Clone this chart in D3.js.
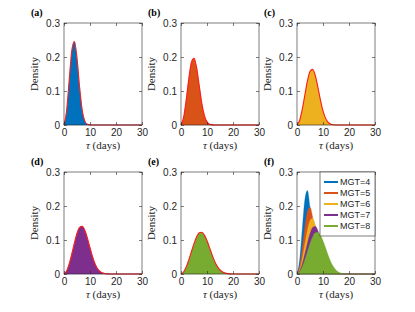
<!DOCTYPE html>
<html>
<head>
<meta charset="utf-8">
<script src="https://cdn.jsdelivr.net/npm/d3@7"></script>
<style>
  body { margin: 0; background: #fff; }
  svg { display: block; }
</style>
</head>
<body>
<svg id="chart" width="415" height="312"></svg>
<script>
// tau grid (days)
const tau = d3.range(0, 31);

// estimated density of tau for each mean generation time
const mgt4 = [0, 0.0411, 0.1309, 0.2182, 0.2456, 0.1961, 0.1107, 0.0434, 0.01147, 0.00198, 0.00022, 0, 0, 0, 0, 0, 0, 0, 0, 0, 0, 0, 0, 0, 0, 0, 0, 0, 0, 0, 0];
const mgt5 = [0, 0.02217, 0.0736, 0.1358, 0.184, 0.1965, 0.1685, 0.1161, 0.0637, 0.02749, 0.00918, 0.00234, 0.00045, 0.00006, 0, 0, 0, 0, 0, 0, 0, 0, 0, 0, 0, 0, 0, 0, 0, 0, 0];
const mgt6 = [0, 0.01334, 0.04514, 0.0873, 0.1289, 0.1575, 0.1637, 0.1463, 0.1123, 0.0738, 0.04126, 0.01945, 0.00765, 0.0025, 0.00067, 0.00014, 0, 0, 0, 0, 0, 0, 0, 0, 0, 0, 0, 0, 0, 0, 0];
const mgt7 = [0, 0.00868, 0.02966, 0.0588, 0.0908, 0.119, 0.137, 0.1403, 0.1286, 0.1055, 0.0772, 0.0503, 0.02902, 0.01475, 0.00655, 0.00254, 0.00085, 0.00025, 0.00006, 0, 0, 0, 0, 0, 0, 0, 0, 0, 0, 0, 0];
const mgt8 = [0, 0.00598, 0.02054, 0.0413, 0.06547, 0.0894, 0.1091, 0.121, 0.1228, 0.1144, 0.098, 0.077, 0.05536, 0.03636, 0.02171, 0.01175, 0.00574, 0.00252, 0.00099, 0.00035, 0.0001, 0, 0, 0, 0, 0, 0, 0, 0, 0, 0];

const seriesNames = ["MGT=4", "MGT=5", "MGT=6", "MGT=7", "MGT=8"];
const seriesValues = [mgt4, mgt5, mgt6, mgt7, mgt8];
const colors = ["#0072BD", "#D95319", "#EDB120", "#7E2F8E", "#77AC30"];
const panelLabels = ["(a)", "(b)", "(c)", "(d)", "(e)", "(f)"];
const xTicks = [0, 10, 20, 30];
const yTicks = [0, 0.1, 0.2, 0.3];

const svg = d3.select("#chart");
const W = 78, H = 102;
const colX = [64, 181, 297];
const rowY = [23, 172];
const axisColor = "#262626";
const fitColor = "#ff1a1a";

const x = d3.scaleLinear().domain([0, 30]).range([0, W]);
const y = d3.scaleLinear().domain([0, 0.3]).range([H, 0]);

const area = d3.area()
    .x((d, i) => x(tau[i]))
    .y0(H)
    .y1(d => y(d))
    .curve(d3.curveMonotoneX);

const line = d3.line()
    .x((d, i) => x(tau[i]))
    .y(d => y(d))
    .curve(d3.curveMonotoneX);

panelLabels.forEach((lab, p) => {
    const col = p % 3, row = Math.floor(p / 3);
    const g = svg.append("g")
        .attr("transform", `translate(${colX[col]},${rowY[row]})`);

    // histogram fill(s)
    const idx = p < 5 ? [p] : [0, 1, 2, 3, 4];
    idx.forEach(k => {
        g.append("path")
            .datum(seriesValues[k])
            .attr("d", area)
            .attr("fill", colors[k])
            .attr("stroke", colors[k])
            .attr("stroke-opacity", 0.35)
            .attr("stroke-width", 0.8);
    });

    // fitted curve
    if (p < 5) {
        g.append("path")
            .datum(seriesValues[p])
            .attr("d", line)
            .attr("fill", "none")
            .attr("stroke", fitColor)
            .attr("stroke-width", 1.1);
    }

    // axes
    const styleAxis = sel => {
        sel.select(".domain").remove();
        sel.selectAll("line").attr("stroke", axisColor).attr("stroke-width", 0.6);
        sel.selectAll("text")
            .attr("fill", axisColor)
            .style("font-family", "Liberation Sans, Arial, sans-serif")
            .style("font-size", "10px");
    };

    g.append("g")
        .attr("transform", `translate(0,${H})`)
        .call(d3.axisBottom(x).tickValues(xTicks).tickSizeInner(-3).tickSizeOuter(0).tickPadding(4))
        .call(styleAxis);
    g.append("g")
        .call(d3.axisTop(x).tickValues(xTicks).tickSizeInner(-3).tickSizeOuter(0).tickFormat(""))
        .call(styleAxis);
    g.append("g")
        .call(d3.axisLeft(y).tickValues(yTicks).tickSizeInner(-3).tickSizeOuter(0).tickPadding(4)
            .tickFormat(d => d === 0 ? "0" : d3.format(".1f")(d)))
        .call(styleAxis);
    g.append("g")
        .attr("transform", `translate(${W},0)`)
        .call(d3.axisRight(y).tickValues(yTicks).tickSizeInner(-3).tickSizeOuter(0).tickFormat(""))
        .call(styleAxis);

    g.append("rect")
        .attr("width", W).attr("height", H)
        .attr("fill", "none")
        .attr("stroke", axisColor)
        .attr("stroke-width", 0.6);

    // axis titles
    g.append("text")
        .attr("transform", `translate(-26,${H / 2}) rotate(-90)`)
        .attr("text-anchor", "middle")
        .attr("fill", axisColor)
        .style("font-family", "Liberation Serif, Times New Roman, serif")
        .style("font-size", "11px")
        .text("Density");

    const xl = g.append("text")
        .attr("x", W / 2).attr("y", H + 24)
        .attr("text-anchor", "middle")
        .attr("fill", axisColor)
        .style("font-family", "Liberation Serif, Times New Roman, serif")
        .style("font-size", "11px");
    xl.append("tspan").style("font-style", "italic").text("τ");
    xl.append("tspan").text(" (days)");

    // panel label
    g.append("text")
        .attr("x", -33).attr("y", -7)
        .attr("fill", "#000")
        .style("font-family", "Liberation Serif, Times New Roman, serif")
        .style("font-weight", "bold")
        .style("font-size", "10px")
        .text(lab);

    // legend in (f)
    if (p === 5) {
        const lw = 55, lh = 64;
        const lg = g.append("g").attr("transform", `translate(${W - lw},0)`);
        lg.append("rect")
            .attr("width", lw).attr("height", lh)
            .attr("fill", "#fff")
            .attr("stroke", axisColor)
            .attr("stroke-width", 0.6);
        seriesNames.forEach((name, k) => {
            const yy = 10 + k * 11;
            lg.append("line")
                .attr("x1", 4).attr("x2", 18)
                .attr("y1", yy).attr("y2", yy)
                .attr("stroke", colors[k])
                .attr("stroke-width", 2);
            lg.append("text")
                .attr("x", 20).attr("y", yy)
                .attr("dy", "0.35em")
                .attr("fill", axisColor)
                .style("font-family", "Liberation Sans, Arial, sans-serif")
                .style("font-size", "9px")
                .text(name);
        });
    }
});
</script>
</body>
</html>
